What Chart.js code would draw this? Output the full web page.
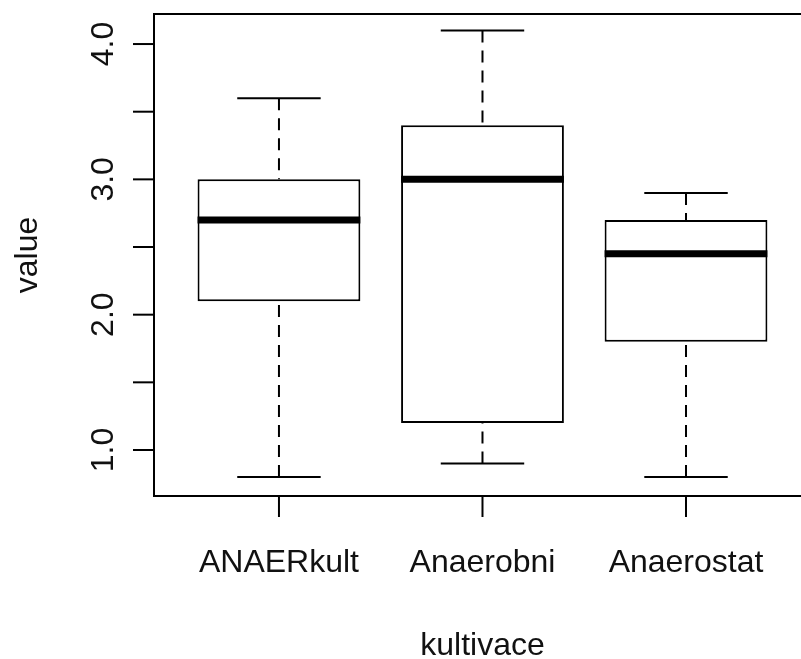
<!DOCTYPE html>
<html>
<head>
<meta charset="utf-8">
<script src="https://cdn.jsdelivr.net/npm/chart.js@4.4.1/dist/chart.umd.min.js"></script>
<style>
  html, body { margin: 0; padding: 0; overflow: hidden; background: #fff; }
</style>
</head>
<body>
<canvas id="chartBoxplot" width="801" height="659"></canvas>
<script>
// data
const categories = ['ANAERkult', 'Anaerobni', 'Anaerostat'];
const whiskerLow = [0.8, 0.9, 0.8];
const quartile1 = [2.1, 1.2, 1.8];
const median = [2.7, 3.0, 2.45];
const quartile3 = [3.0, 3.4, 2.7];
const whiskerHigh = [3.6, 4.1, 2.9];

const yTicks = [1.0, 1.5, 2.0, 2.5, 3.0, 3.5, 4.0];
const yTickLabels = ['1.0', '', '2.0', '', '3.0', '', '4.0'];
const xTitle = 'kultivace';
const yTitle = 'value';

const FONT = '32px "Liberation Sans", Arial, sans-serif';
const INK = '#000';

// R style boxplot parts drawn on the chart's scales
const boxplotParts = {
    id: 'boxplotParts',
    afterDatasetsDraw(chart) {
        const ctx = chart.ctx;
        const x = chart.scales.x;
        const y = chart.scales.y;
        ctx.save();
        ctx.strokeStyle = INK;
        categories.forEach((c, i) => {
            const cx = x.getPixelForValue(i + 1);
            const capL = x.getPixelForValue(i + 1 - 0.205);
            const capR = x.getPixelForValue(i + 1 + 0.205);
            const boxL = x.getPixelForValue(i + 1 - 0.4);
            const boxR = x.getPixelForValue(i + 1 + 0.4);

            // dashed whiskers, from the end toward the box
            ctx.lineWidth = 2;
            ctx.setLineDash([12, 8]);
            ctx.beginPath();
            ctx.moveTo(cx, y.getPixelForValue(whiskerLow[i]));
            ctx.lineTo(cx, y.getPixelForValue(quartile1[i]));
            ctx.moveTo(cx, y.getPixelForValue(whiskerHigh[i]));
            ctx.lineTo(cx, y.getPixelForValue(quartile3[i]));
            ctx.stroke();

            // caps
            ctx.setLineDash([]);
            ctx.beginPath();
            ctx.moveTo(capL, y.getPixelForValue(whiskerLow[i]));
            ctx.lineTo(capR, y.getPixelForValue(whiskerLow[i]));
            ctx.moveTo(capL, y.getPixelForValue(whiskerHigh[i]));
            ctx.lineTo(capR, y.getPixelForValue(whiskerHigh[i]));
            ctx.stroke();

            // median
            ctx.lineWidth = 7;
            ctx.beginPath();
            ctx.moveTo(boxL, y.getPixelForValue(median[i]));
            ctx.lineTo(boxR, y.getPixelForValue(median[i]));
            ctx.stroke();
        });
        ctx.restore();
    },
    afterDraw(chart) {
        const ctx = chart.ctx;
        const a = chart.chartArea;
        const x = chart.scales.x;
        const y = chart.scales.y;
        ctx.save();
        ctx.strokeStyle = INK;
        ctx.lineWidth = 2;
        ctx.setLineDash([]);
        // frame (right side falls past the picture edge)
        ctx.beginPath();
        ctx.moveTo(a.right + 20, a.top);
        ctx.lineTo(a.left, a.top);
        ctx.lineTo(a.left, a.bottom);
        ctx.lineTo(a.right + 20, a.bottom);
        ctx.stroke();

        // y ticks + rotated labels
        ctx.fillStyle = '#111';
        ctx.font = FONT;
        yTicks.forEach((v, i) => {
            const py = y.getPixelForValue(v);
            ctx.beginPath();
            ctx.moveTo(a.left - 21, py);
            ctx.lineTo(a.left, py);
            ctx.stroke();
            if (yTickLabels[i]) {
                ctx.save();
                ctx.translate(a.left - 41, py);
                ctx.rotate(-Math.PI / 2);
                ctx.textAlign = 'center';
                ctx.textBaseline = 'alphabetic';
                ctx.fillText(yTickLabels[i], 0, 0);
                ctx.restore();
            }
        });

        // x ticks + labels
        categories.forEach((c, i) => {
            const px = x.getPixelForValue(i + 1);
            ctx.beginPath();
            ctx.moveTo(px, a.bottom);
            ctx.lineTo(px, a.bottom + 21);
            ctx.stroke();
            ctx.textAlign = 'center';
            ctx.textBaseline = 'alphabetic';
            ctx.fillText(c, px, a.bottom + 76);
        });

        // axis titles
        ctx.textAlign = 'center';
        ctx.fillText(xTitle, (a.left + x.getPixelForValue(3.614)) / 2, a.bottom + 159);
        ctx.save();
        ctx.translate(37, (a.top + a.bottom) / 2);
        ctx.rotate(-Math.PI / 2);
        ctx.fillText(yTitle, 0, 0);
        ctx.restore();
        ctx.restore();
    }
};

const chartBoxplot = document.getElementById('chartBoxplot');

new Chart(chartBoxplot, {
    type: 'bar',
    data: {
        datasets: [{
            label: 'value',
            data: categories.map((c, i) => ({ x: i + 1, y: [quartile1[i], quartile3[i]] })),
            backgroundColor: '#fff',
            borderColor: INK,
            borderWidth: 2,
            borderSkipped: false,
            barPercentage: 0.8,
            categoryPercentage: 1
        }]
    },
    options: {
        responsive: false,
        animation: false,
        layout: { padding: { left: 154, top: 14, right: 0, bottom: 163 } },
        scales: {
            x: {
                type: 'linear', min: 0.386, max: 3.565, offset: false, display: false,
                // one tick per group so bar width follows the group spacing
                afterBuildTicks: (s) => { s.ticks = categories.map((c, i) => ({ value: i + 1 })); }
            },
            y: { min: 0.66, max: 4.222, display: false }
        },
        plugins: {
            legend: { display: false },
            tooltip: { enabled: false }
        }
    },
    plugins: [boxplotParts]
});
</script>
</body>
</html>
